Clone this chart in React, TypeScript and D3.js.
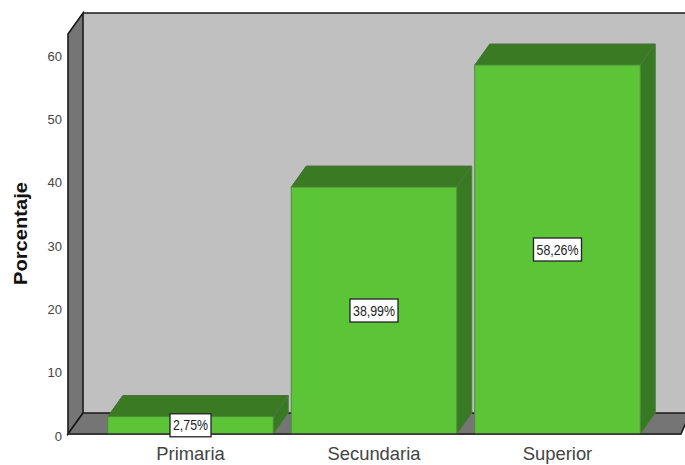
import React from 'react';
import * as d3 from 'd3';

const categories = ['Primaria', 'Secundaria', 'Superior'];
const percentages = [2.75, 38.99, 58.26];
const percentLabels = ['2,75%', '38,99%', '58,26%'];
const yTicks = [0, 10, 20, 30, 40, 50, 60];

const WIDTH = 685;
const HEIGHT = 465;
const DX = 15;
const DY = 21;
const FONT = '"Liberation Sans", Arial, sans-serif';

const x0 = 68;
const xEnd = 681;
const y0 = 434;
const yTop = 34;

const yScale = d3.scaleLinear().domain([0, 60]).range([y0, 54]);
const xScale = d3
  .scaleBand<string>()
  .domain(categories)
  .range([98.75, 649.25])
  .paddingInner(0.098)
  .paddingOuter(0.049);

const poly = (pts: [number, number][]) => pts.map((p) => p.join(',')).join(' ');

export default function App() {
  const bw = xScale.bandwidth();
  return (
    <svg
      width={WIDTH}
      height={HEIGHT}
      style={{ position: 'absolute', left: 0, top: 0, background: '#fff' }}
    >
      {/* back wall, side wall, floor */}
      <rect x={x0 + DX} y={yTop - DY} width={WIDTH - x0 - DX + 5} height={y0 - yTop} fill="#c0c0c0" />
      <polygon
        points={poly([[x0, yTop], [x0 + DX, yTop - DY], [x0 + DX, y0 - DY], [x0, y0]])}
        fill="#757575"
        stroke="#1a1a1a"
        strokeWidth={1.6}
      />
      <polygon
        points={poly([[x0, y0], [x0 + DX, y0 - DY], [WIDTH + 5, y0 - DY], [xEnd, y0]])}
        fill="#757575"
        stroke="#1a1a1a"
        strokeWidth={1.6}
      />
      <line x1={x0 + DX} x2={WIDTH} y1={yTop - DY} y2={yTop - DY} stroke="#1a1a1a" strokeWidth={1.6} />

      {/* bars */}
      {categories.map((c, i) => {
        const x = xScale(c) as number;
        const y = yScale(percentages[i]);
        return (
          <g key={c}>
            <polygon
              points={poly([[x, y], [x + DX, y - DY], [x + bw + DX, y - DY], [x + bw, y]])}
              fill="#3a7a22"
              stroke="#4f6b42"
              strokeWidth={1}
            />
            <polygon
              points={poly([[x + bw, y], [x + bw + DX, y - DY], [x + bw + DX, y0 - DY], [x + bw, y0]])}
              fill="#387a24"
              stroke="#4f7a3f"
              strokeWidth={1}
            />
            <rect x={x} y={y} width={bw} height={y0 - y} fill="#5cc437" stroke="#4f8a3c" strokeWidth={1} />
          </g>
        );
      })}

      <line x1={x0} x2={xEnd} y1={y0} y2={y0} stroke="#333" strokeWidth={1.6} />

      {/* value labels */}
      {categories.map((c, i) => {
        const cx = (xScale(c) as number) + bw / 2;
        const cy = yScale(percentages[i] / 2);
        const tw = percentLabels[i].length * 7;
        return (
          <g key={c}>
            <rect x={cx - tw / 2 - 3} y={cy - 11.5} width={tw + 6} height={23} fill="#fff" stroke="#222" strokeWidth={1.3} />
            <text
              x={cx}
              y={cy + 5}
              textAnchor="middle"
              fontFamily={FONT}
              fontSize={14}
              fill="#222"
              textLength={tw}
              lengthAdjust="spacingAndGlyphs"
            >
              {percentLabels[i]}
            </text>
          </g>
        );
      })}

      {/* y axis labels */}
      {yTicks.map((t) => (
        <text key={t} x={62} y={yScale(t) + 6.5} textAnchor="end" fontFamily={FONT} fontSize={13} fill="#444">
          {t}
        </text>
      ))}
      <text
        transform="translate(27,233.5) rotate(-90)"
        textAnchor="middle"
        fontFamily={FONT}
        fontSize={18}
        fontWeight="bold"
        fill="#111"
        textLength={103}
        lengthAdjust="spacingAndGlyphs"
      >
        Porcentaje
      </text>

      {/* x axis labels */}
      {categories.map((c) => (
        <text
          key={c}
          x={(xScale(c) as number) + bw / 2}
          y={460}
          textAnchor="middle"
          fontFamily={FONT}
          fontSize={18.4}
          fill="#444"
        >
          {c}
        </text>
      ))}
    </svg>
  );
}
